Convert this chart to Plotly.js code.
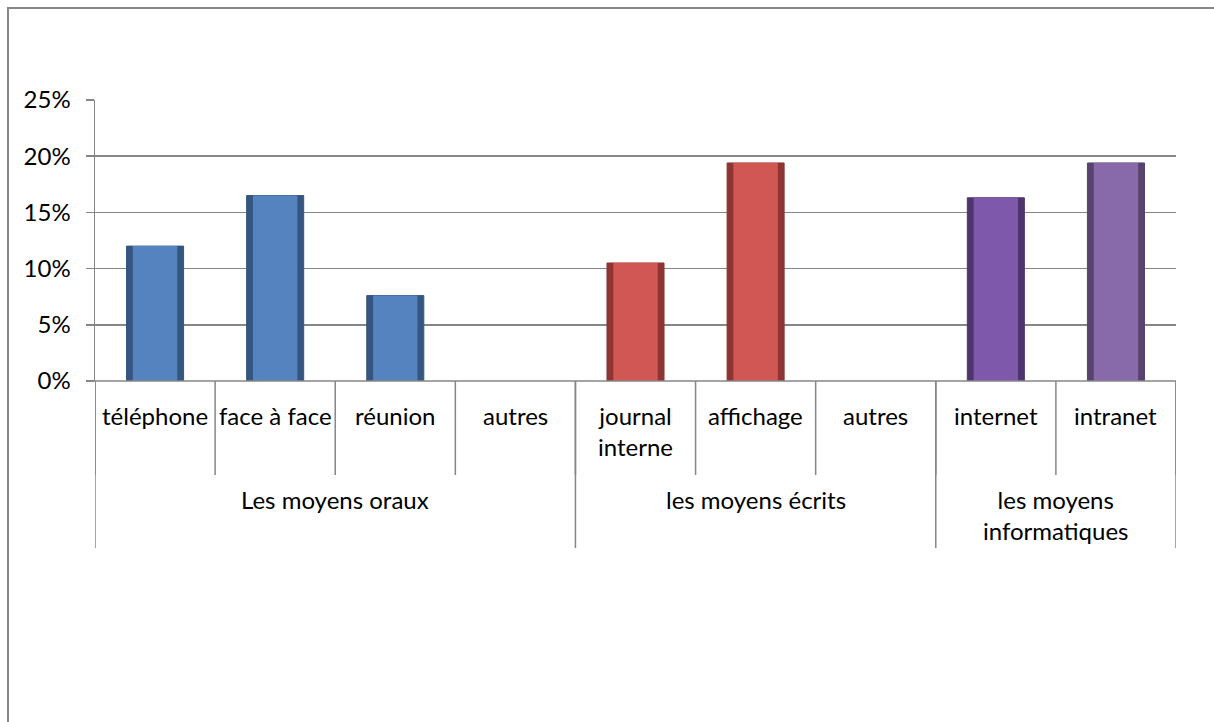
<!DOCTYPE html>
<html>
<head>
<meta charset="utf-8">
<script src="https://cdn.plot.ly/plotly-3.0.1.min.js"></script>
<style>
  html, body { margin: 0; padding: 0; background: #fff; }
  #wrap { position: relative; width: 1214px; height: 722px; overflow: hidden; }
  #chart { position: absolute; left: 0; top: 0; width: 1214px; height: 722px; }
  #frame { position: absolute; left: 7px; top: 7px; width: 1300px; height: 800px;
           border: 2px solid #878787; pointer-events: none; box-sizing: border-box; }
</style>
</head>
<body>
<div id="wrap"><div id="chart"></div><div id="frame"></div></div>
<script>
// ---- data ----
const categories = ["téléphone", "face à face", "réunion", "autres",
                    "journal<br>interne", "affichage", "autres",
                    "internet", "intranet"];
const groups = ["Les moyens oraux", "les moyens écrits", "les moyens<br>informatiques"];
const groupSizes = [4, 3, 2];
const values = [0.12, 0.165, 0.076, null, 0.105, 0.194, null, 0.163, 0.194];
const barColors  = ["#5483C0", "#5483C0", "#5483C0", "#5483C0",
                    "#D15754", "#D15754", "#D15754",
                    "#7E58AA", "#8869AA"];
const edgeColors = ["#34567F", "#34567F", "#34567F", "#34567F",
                    "#8E3532", "#8E3532", "#8E3532",
                    "#4F3470", "#58426F"];
const yTickVals = [0, 0.05, 0.10, 0.15, 0.20, 0.25];

// ---- build ----
const idx = categories.map((_, i) => i);
const FONT = "Lato, 'Open Sans', sans-serif";
const FSIZE = 24;
const GRID = "#868686";
const PLOT_H = 281; // plot area height in px (722 - 100 - 341)

const traces = [
  { type: "bar", x: idx, y: values, width: 0.475,
    marker: { color: edgeColors, line: { color: edgeColors, width: 1 } },
    hoverinfo: "skip" },
  { type: "bar", x: idx, y: values, width: 0.37,
    marker: { color: barColors, line: { width: 0 } },
    hoverinfo: "skip" }
];

const shapes = [];
const annotations = [];
// category boundaries (short)
for (let b = 0; b <= categories.length; b++) {
  shapes.push({ type: "line", xref: "x", yref: "paper",
    x0: b - 0.5, x1: b - 0.5, y0: 0, y1: -94 / PLOT_H,
    line: { color: GRID, width: 1.5 } });
}
// group boundaries (long)
let start = 0;
const gBounds = [0];
groupSizes.forEach(s => { start += s; gBounds.push(start); });
gBounds.forEach(b => {
  shapes.push({ type: "line", xref: "x", yref: "paper",
    x0: b - 0.5, x1: b - 0.5, y0: 0, y1: -167 / PLOT_H,
    line: { color: GRID, width: 1.5 } });
});
// axis line at 0 with left tick
shapes.push({ type: "line", xref: "paper", yref: "paper", x0: -0.0075, x1: 1, y0: 0, y1: 0,
  line: { color: GRID, width: 1.5 } });

categories.forEach((c, i) => {
  annotations.push({ x: i, y: 0, xref: "x", yref: "paper", yanchor: "top", xanchor: "center",
    yshift: -18, text: c, showarrow: false, align: "center",
    font: { family: FONT, size: FSIZE, color: "#000" } });
});
groups.forEach((g, k) => {
  const cx = (gBounds[k] + gBounds[k + 1] - 1) / 2;
  annotations.push({ x: cx, y: 0, xref: "x", yref: "paper", yanchor: "top", xanchor: "center",
    yshift: -102, text: g, showarrow: false, align: "center",
    font: { family: FONT, size: FSIZE, color: "#000" } });
});

const layout = {
  width: 1214, height: 722,
  margin: { l: 95, r: 38, t: 100, b: 341, pad: 0 },
  paper_bgcolor: "#fff", plot_bgcolor: "#fff",
  showlegend: false, barmode: "overlay",
  font: { family: FONT, size: FSIZE, color: "#000" },
  xaxis: { range: [-0.5, categories.length - 0.5], showticklabels: false, showgrid: false,
           zeroline: false, ticks: "", showline: false, fixedrange: true },
  yaxis: { range: [0, 0.25], tickvals: yTickVals, tickformat: ".0%",
           showgrid: true, gridcolor: GRID, gridwidth: 1.5,
           zeroline: false, showline: true, linecolor: GRID, linewidth: 1.5,
           ticks: "outside", ticklen: 8, tickcolor: GRID, tickwidth: 1.5,
           ticklabelstandoff: 10,
           tickfont: { family: FONT, size: FSIZE, color: "#000" }, fixedrange: true },
  shapes: shapes,
  annotations: annotations
};

Plotly.newPlot("chart", traces, layout, { displayModeBar: false, staticPlot: true });
</script>
</body>
</html>
